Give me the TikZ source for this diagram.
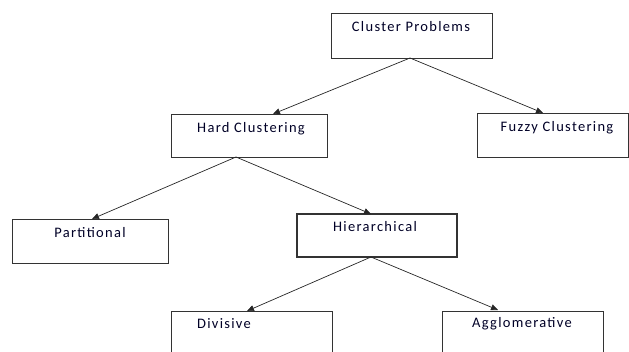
\documentclass[tikz,border=0pt]{standalone}
\usepackage{fontspec}
\setmainfont{Carlito}
\usetikzlibrary{arrows.meta}
\begin{document}
\begin{tikzpicture}[x=1pt,y=-1pt,
  box/.style={draw=black!80, line width=0.8pt},
  lbl/.style={font=\fontsize{14.5}{16}\selectfont\addfontfeature{LetterSpace=9}, text=black!85!blue, anchor=center, inner sep=0pt},
  conn/.style={draw=black!85, line width=0.7pt, -{Triangle[length=7pt,width=6pt]}}]
\useasboundingbox (0,0) rectangle (629,351);
\begin{scope}
\clip (0,0) rectangle (629,351);
% boxes
\draw[box] (331,13) rectangle (492,58);
\draw[box] (171,114) rectangle (327,157);
\draw[box] (477,113) rectangle (628,157);
\draw[box] (12,219) rectangle (168,263);
\draw[box, line width=1.3pt] (297,214) rectangle (457,257);
\draw[box] (171,311) rectangle (332,360);
\draw[box] (442,311) rectangle (603,360);
\end{scope}
% labels
\node[lbl] (cp) at (411,27) {Cluster Problems};
\node[lbl] (hc) at (251,129) {Hard Clustering};
\node[lbl] (fc) at (557,128) {Fuzzy Clustering};
\node[lbl] (pa) at (90,233) {Partitional};
\node[lbl] (hi) at (375,227) {Hierarchical};
\node[lbl] (di) at (224,324) {Divisive};
\node[lbl] (ag) at (522,324) {Agglomerative};
% connector anchors
\coordinate (cpb) at (410,58);
\coordinate (hct) at (273,114);
\coordinate (fct) at (543,113);
\coordinate (hcb) at (236,157);
\coordinate (pat) at (92,219);
\coordinate (hit) at (371,214);
\coordinate (hib) at (371,257);
\coordinate (dit) at (247,311);
\coordinate (agt) at (498,310);
\draw[conn] (cpb) -- (hct);
\draw[conn] (cpb) -- (fct);
\draw[conn] (hcb) -- (pat);
\draw[conn] (hcb) -- (hit);
\draw[conn] (hib) -- (dit);
\draw[conn] (hib) -- (agt);
\end{tikzpicture}
\end{document}
